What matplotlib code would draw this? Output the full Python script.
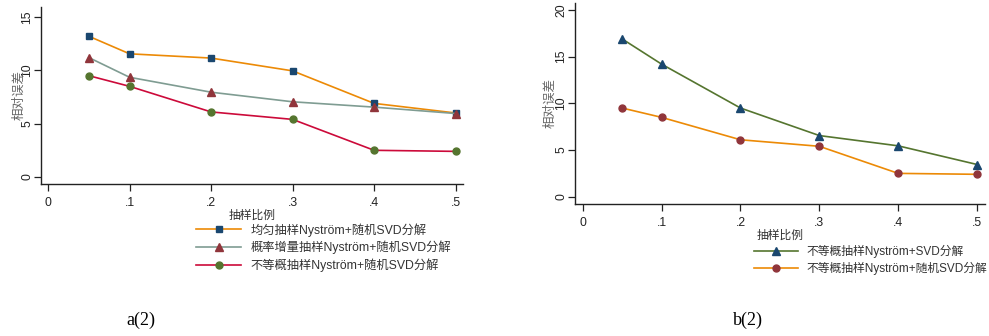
import matplotlib
matplotlib.use("Agg")
import matplotlib.pyplot as plt

plt.rcParams['font.family'] = ['Liberation Sans', 'Noto Sans CJK SC', 'DejaVu Sans']

# ---- data ----
ratios = [0.05, 0.1, 0.2, 0.3, 0.4, 0.5]
xtick_vals = [0, 0.1, 0.2, 0.3, 0.4, 0.5]
xtick_labels = ['0', '.1', '.2', '.3', '.4', '.5']

a_uniform = [13.2, 11.55, 11.15, 9.95, 6.9, 6.0]
a_prob_inc = [11.2, 9.35, 7.95, 7.05, 6.55, 5.95]
a_nonuniform = [9.5, 8.5, 6.1, 5.4, 2.5, 2.4]
a_labels = ['均匀抽样Nyström+随机SVD分解',
            '概率增量抽样Nyström+随机SVD分解',
            '不等概抽样Nyström+随机SVD分解']
a_yticks = [0, 5, 10, 15]

b_svd = [16.9, 14.2, 9.5, 6.55, 5.45, 3.45]
b_rsvd = [9.5, 8.5, 6.1, 5.4, 2.5, 2.4]
b_labels = ['不等概抽样Nyström+SVD分解',
            '不等概抽样Nyström+随机SVD分解']
b_yticks = [0, 5, 10, 15, 20]

ylabel = '相对误差'
xlabel = '抽样比例'
captions = ['a(2)', 'b(2)']

navy = '#1a476f'
maroon = '#90353b'
forest = '#55752f'
dkorange = '#ec8a06'
teal = '#7f9c92'
cranberry = '#cc0a3a'

W, H = 989, 336
fig = plt.figure(figsize=(W / 100, H / 100), dpi=100)


def px_axes(l, r, t, b):
    return fig.add_axes([l / W, (H - b) / H, (r - l) / W, (b - t) / H])


def style(ax, yticks, xlim, ylim, lab_x):
    ax.set_xlim(*xlim)
    ax.set_ylim(*ylim)
    for s in ['top', 'right']:
        ax.spines[s].set_visible(False)
    for s in ['left', 'bottom']:
        ax.spines[s].set_color('#222222')
        ax.spines[s].set_linewidth(1.0)
    ax.set_xticks(xtick_vals)
    ax.set_xticklabels(xtick_labels)
    ax.set_yticks(yticks)
    ax.set_yticklabels([str(v) for v in yticks])
    ax.tick_params(axis='both', direction='out', length=5, width=0.9,
                   color='#222222', labelsize=8.8, labelcolor='#222222')
    ax.tick_params(axis='x', pad=4)
    ax.tick_params(axis='y', pad=0.5, labelrotation=90)
    for t in ax.get_yticklabels():
        t.set_va('center')
    ax.set_xlabel(xlabel, fontsize=8.5, color='#333333', labelpad=1)
    ax.set_ylabel(ylabel, fontsize=9, color='#666666')
    ax.yaxis.set_label_coords(lab_x, 0.5)


def legend(ax, x, y, fs):
    leg = ax.legend(loc='upper left', bbox_to_anchor=(x / W, (H - y) / H),
                    bbox_transform=fig.transFigure, frameon=False, fontsize=fs,
                    handlelength=3.7, handletextpad=0.75, labelspacing=0.33,
                    borderaxespad=0, borderpad=0)
    for t in leg.get_texts():
        t.set_color('#333333')
    return leg


# ---- panel a ----
ax1 = px_axes(41, 463, 7, 184)
ax1.plot(ratios, a_uniform, color=dkorange, lw=1.2, marker='s', ms=5,
         mfc=navy, mec=navy, label=a_labels[0])
ax1.plot(ratios, a_prob_inc, color=teal, lw=1.2, marker='^', ms=5.5,
         mfc=maroon, mec=maroon, label=a_labels[1])
ax1.plot(ratios, a_nonuniform, color=cranberry, lw=1.2, marker='o', ms=5,
         mfc=forest, mec=forest, label=a_labels[2])
style(ax1, a_yticks, (-0.0086, 0.509), (-0.66, 15.94), -0.038)
legend(ax1, 196, 223, 8.8)

# ---- panel b ----
ax2 = px_axes(575, 985, 3, 204)
ax2.plot(ratios, b_svd, color=forest, lw=1.2, marker='^', ms=5.5,
         mfc=navy, mec=navy, label=b_labels[0])
ax2.plot(ratios, b_rsvd, color=dkorange, lw=1.2, marker='o', ms=5,
         mfc=maroon, mec=maroon, label=b_labels[1])
style(ax2, b_yticks, (-0.0098, 0.510), (-0.78, 20.75), -0.045)
legend(ax2, 754, 245, 8.5)

fig.text(141 / W, (H - 320) / H, captions[0], family='Liberation Serif',
         fontsize=13, ha='center', va='center', color='black')
fig.text(748 / W, (H - 320) / H, captions[1], family='Liberation Serif',
         fontsize=13, ha='center', va='center', color='black')

fig.savefig('out.png', dpi=100, facecolor='white')
